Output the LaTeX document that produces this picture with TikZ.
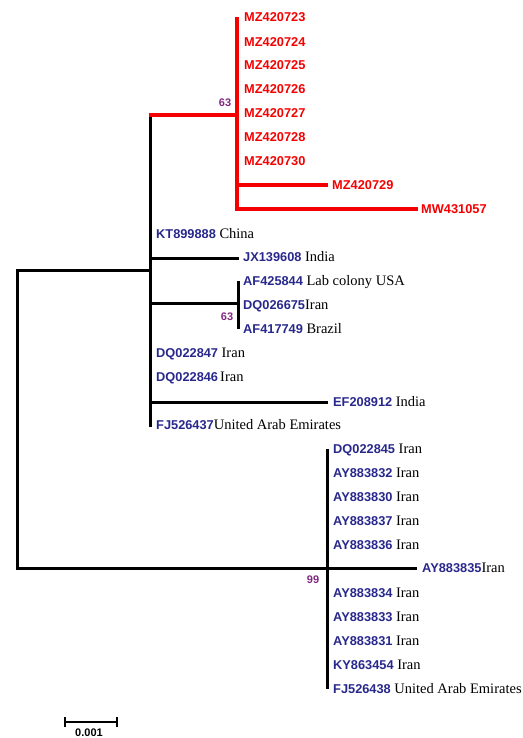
\documentclass[tikz,border=0pt]{standalone}
\usepackage{fontspec}
\setmainfont{Liberation Serif}
\newfontfamily\accfont{Liberation Sans}
\definecolor{accblue}{RGB}{40,40,140}
\definecolor{treered}{RGB}{245,0,0}
\definecolor{bootpurple}{RGB}{128,40,128}
\newcommand\ctry[1]{{\rmfamily\mdseries\color{black}\fontsize{14.5}{16}\selectfont #1}}
\begin{document}
\begin{tikzpicture}[x=1pt,y=-1pt,
  branch/.style={line width=3pt, black},
  redbranch/.style={line width=3.5pt, treered},
  tiplabel/.style={anchor=base west, inner sep=0pt, font=\accfont\bfseries\fontsize{12.8}{14}\selectfont, text=accblue},
  redlabel/.style={tiplabel, text=treered},
  boot/.style={font=\accfont\bfseries\fontsize{11}{12}\selectfont, text=bootpurple, inner sep=0pt},
  ]
\useasboundingbox (0,0) rectangle (522,738);

% internal node coordinates
\coordinate (rootA) at (17,270);
\coordinate (rootB) at (17,568);
\coordinate (nA) at (150,270);
\coordinate (nB) at (327,568);
\coordinate (nAtop) at (150,115);
\coordinate (nAbot) at (150,427);
\coordinate (nR) at (237,115);
\coordinate (nRtop) at (237,17);
\coordinate (nRbot) at (237,209);
\coordinate (nR729) at (237,185);
\coordinate (nI) at (238,303);
\coordinate (nItop) at (238,281);
\coordinate (nIbot) at (238,329);
\coordinate (nBtop) at (327,449);
\coordinate (nBbot) at (327,689);

% red clade tips
\node[redlabel] (mz723) at (244,17+4.7) {MZ420723};
\node[redlabel] (mz724) at (244,42+4.7) {MZ420724};
\node[redlabel] (mz725) at (244,65+4.7) {MZ420725};
\node[redlabel] (mz726) at (244,89+4.7) {MZ420726};
\node[redlabel] (mz727) at (244,113+4.7) {MZ420727};
\node[redlabel] (mz728) at (244,137+4.7) {MZ420728};
\node[redlabel] (mz730) at (244,161+4.7) {MZ420730};
\node[redlabel] (mz729) at (332,185+4.7) {MZ420729};
\node[redlabel] (mw057) at (421,209+4.7) {MW431057};
\coordinate (e729) at (328,185);
\coordinate (e057) at (418,209);

% clade A tips
\node[tiplabel] (kt) at (156,234+4.7) {KT899888 \ctry{China}};
\node[tiplabel] (jx) at (243,257+4.7) {JX139608 \ctry{India}};
\coordinate (ejx) at (239,258);
\node[tiplabel] (af425) at (243,281+4.7) {AF425844 \ctry{Lab colony USA}};
\node[tiplabel] (dq675) at (243,305+4.7) {DQ026675\ctry{Iran}};
\node[tiplabel] (af417) at (243,329+4.7) {AF417749 \ctry{Brazil}};
\node[tiplabel] (dq847) at (156,353+4.7) {DQ022847 \ctry{Iran}};
\node[tiplabel] (dq846) at (156,377+4.7) {DQ022846\,\ctry{Iran}};
\node[tiplabel] (ef) at (333,402+4.7) {EF208912 \ctry{India}};
\coordinate (eef) at (328,402);
\node[tiplabel] (fj437) at (156,425+4.7) {FJ526437\ctry{United Arab Emirates}};

% clade B tips
\node[tiplabel] (dq845) at (333,449+4.7) {DQ022845 \ctry{Iran}};
\node[tiplabel] (ay832) at (333,473+4.7) {AY883832 \ctry{Iran}};
\node[tiplabel] (ay830) at (333,497+4.7) {AY883830 \ctry{Iran}};
\node[tiplabel] (ay837) at (333,521+4.7) {AY883837 \ctry{Iran}};
\node[tiplabel] (ay836) at (333,545+4.7) {AY883836 \ctry{Iran}};
\node[tiplabel] (ay835) at (422,568+4.7) {AY883835\ctry{Iran}};
\coordinate (e835) at (417,568);
\node[tiplabel] (ay834) at (333,593+4.7) {AY883834 \ctry{Iran}};
\node[tiplabel] (ay833) at (333,617+4.7) {AY883833 \ctry{Iran}};
\node[tiplabel] (ay831) at (333,641+4.7) {AY883831 \ctry{Iran}};
\node[tiplabel] (ky) at (333,665+4.7) {KY863454 \ctry{Iran}};
\node[tiplabel] (fj438) at (333,689+4.7) {FJ526438 \ctry{United Arab Emirates}};

% black branches
\draw[branch] (nA) -- (rootA) -- (rootB) -- (nB);
\draw[branch] ([yshift=-1.5pt]nAtop) -- (nAbot);
\draw[branch] (nA |- ejx) -- (ejx);
\draw[branch] (nA |- nI) -- (nI);
\draw[branch] (nItop) -- (nIbot);
\draw[branch] (nA |- eef) -- (eef);
\draw[branch] (nBtop) -- (nBbot);
\draw[branch] (nB) -- (e835);

% red branches
\draw[redbranch] ([xshift=-1.5pt]nAtop) -- (nR);
\draw[redbranch] (nRtop) -- (nRbot) -- (e057);
\draw[redbranch] (nR729) -- (e729);

% bootstrap values
\node[boot] (b1) at (225,103) {63};
\node[boot] (b2) at (227,317) {63};
\node[boot] (b3) at (313,580) {99};

% scale bar
\coordinate (sL) at (65,722);
\coordinate (sR) at (117,722);
\draw[line width=2pt] (sL) -- (sR);
\draw[line width=2pt] ([yshift=-5pt]sL) -- ([yshift=5pt]sL);
\draw[line width=2pt] ([yshift=-5pt]sR) -- ([yshift=5pt]sR);
\node[font=\accfont\bfseries\fontsize{11}{12}\selectfont, inner sep=0pt] (sl) at (89,733) {0.001};
\end{tikzpicture}
\end{document}
